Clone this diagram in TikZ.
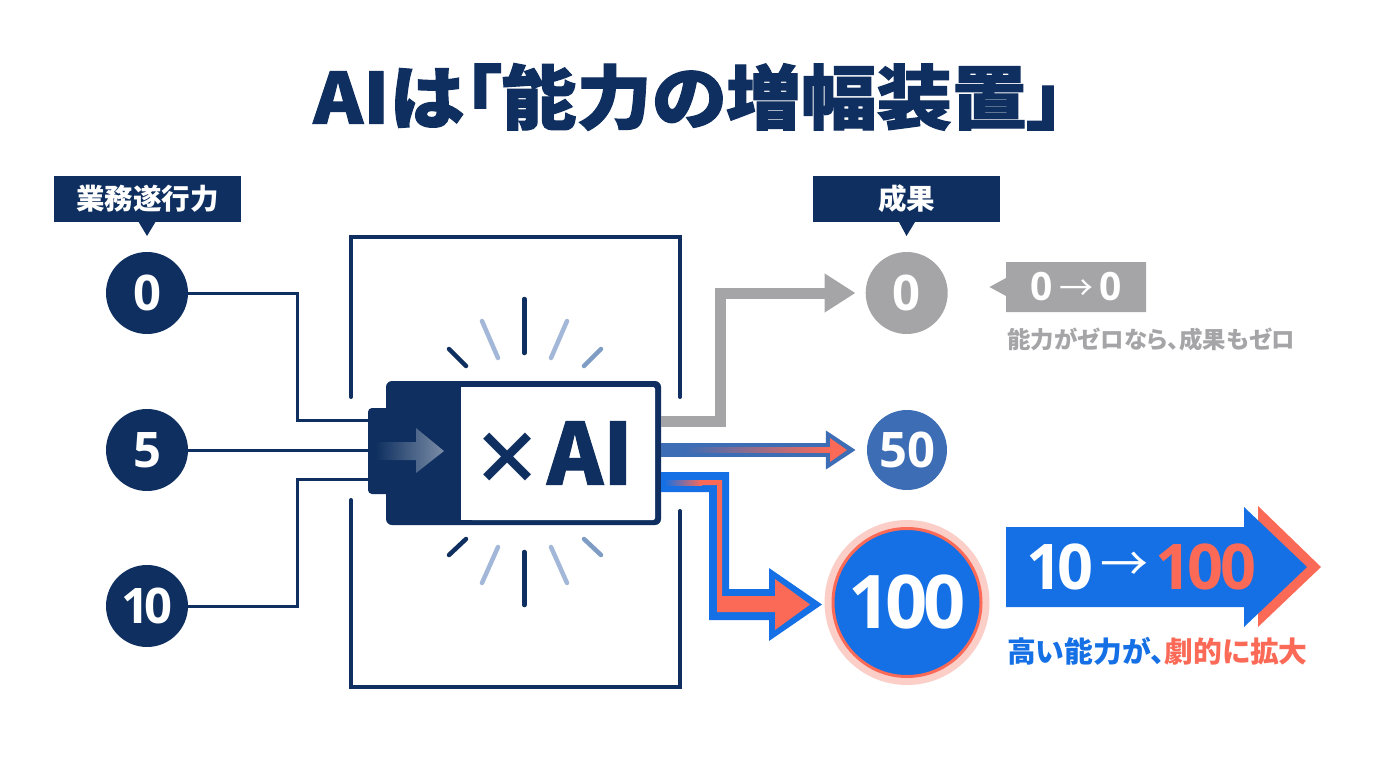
\documentclass[tikz,border=0pt]{standalone}
\usepackage{fontspec}
\usetikzlibrary{arrows.meta}
\setmainfont[RawFeature=+palt]{Noto Sans CJK JP}
\newfontfamily\titlef[RawFeature=+palt,FakeStretch=1.075,FakeBold=1.6]{Noto Sans CJK JP Black}
\newfontfamily\heavyf[FakeBold=1.2]{Noto Sans CJK JP Bold}
\newfontfamily\numf{Open Sans}
\definecolor{navy}{HTML}{0E2F5F}
\definecolor{grayc}{HTML}{A5A5A7}
\definecolor{bluec}{HTML}{1470E4}
\definecolor{redc}{HTML}{FB6A57}
\definecolor{midb}{HTML}{3D6DB5}
\definecolor{halo}{HTML}{FBCFC8}
\definecolor{lightb}{HTML}{A3B8D8}
\definecolor{medb}{HTML}{7F9CC4}
\newcommand{\fs}[1]{\fontsize{#1}{#1}\selectfont\bfseries}
\newcommand{\nfs}[1]{\fontsize{#1}{#1}\selectfont\numf\bfseries}
\tikzset{
  x=1pt,y=-1pt,
  numc/.style={circle,inner sep=0pt,minimum size=82pt,text=white,font=\nfs{49}},
  tagbox/.style={rectangle,fill=navy,text=white,inner sep=0pt,minimum width=187pt,minimum height=46pt,font=\fs{28.5}},
  wire/.style={draw=navy,line width=3pt,line join=miter},
  frameline/.style={draw=navy,line width=4pt,line cap=round,line join=miter},
  spark/.style={line width=4.5pt,line cap=round},
}
\begin{document}
\begin{tikzpicture}
\useasboundingbox (0,0) rectangle (1376,768);
\fill[white] (0,0) rectangle (1376,768);
% title
\node[text=navy,font=\titlef\fontsize{70}{70}\selectfont] (title) at (689,97) {AIは「能力の増幅装置」};
% frame
\draw[frameline] (351,397) -- (351,237) -- (680,237) -- (680,397);
\draw[frameline] (351,500) -- (351,687) -- (680,687) -- (680,511);
% tags
\node[tagbox] (tagin) at (147.5,199) {業務遂行力};
\fill[navy] (138,221) -- (156,221) -- (147,236) -- cycle;
\node[tagbox] (tagout) at (906.5,198.5) {成果};
\fill[navy] (899,222) -- (915,222) -- (906.5,236) -- cycle;
% input circles
\node[numc,fill=navy] (n0) at (147,293) {0};
\node[numc,fill=navy] (n5) at (147,450) {5};
\node[numc,fill=navy] (n10) at (147,606) {1\kern-5pt 0};
% battery
\node[rectangle,rounded corners=4pt,fill=navy,minimum width=30pt,minimum height=86pt,inner sep=0pt] (plug) at (383,451) {};
\node[rectangle,rounded corners=6pt,fill=navy,minimum width=275pt,minimum height=144pt,inner sep=0pt] (bat) at (523.5,453) {};
\fill[white,rounded corners=2pt] (470,387) -- (655,387) -- (655,520) -- (470,520) -- cycle;
\fill[white] (461,387) rectangle (480,520);
\node[text=navy,inner sep=0pt,anchor=center] (ai) at (552,453) {\fs{72}×\hspace{4pt}\fontsize{85}{85}\selectfont\heavyf AI};
% plug arrow
\shade[left color=navy,right color=navy!55!white]
  (375,442) -- (416,442) -- (416,428) -- (444,451) -- (416,473) -- (416,460) -- (375,460) -- cycle;
% wires
\coordinate (in1) at (368,420);
\coordinate (in2) at (368,450);
\coordinate (in3) at (368,479);
\draw[wire] (n0.east) -- ++(109,0) |- (in1);
\draw[wire] (n5.east) -- (in2);
\draw[wire] (n10.east) -- ++(109,0) |- (in3);
% sparks
\draw[spark,navy] (524.3,299) -- (524.3,353);
\draw[spark,navy] (524.3,552) -- (524.3,605);
\draw[spark,navy] (449,349) -- (466,366);
\draw[spark,navy] (449,555) -- (466,539);
\draw[spark,lightb] (482,321) -- (498,358);
\draw[spark,lightb] (567,321) -- (551,358);
\draw[spark,lightb] (482,583) -- (498,547);
\draw[spark,lightb] (567,583) -- (551,547);
\draw[spark,medb] (601,349) -- (584,366);
\draw[spark,medb] (584,539) -- (601,555);
% outputs
\node[numc,fill=grayc] (o0) at (906.7,293) {0};
\node[numc,fill=midb,minimum size=80pt] (o50) at (907,450) {50};
\node[circle,fill=halo,minimum size=165pt,inner sep=0pt] (ohalo) at (907,602.5) {};
\node[circle,fill=bluec,draw=redc,line width=3pt,minimum size=148pt,inner sep=0pt,text=white,font=\nfs{74}] (o100) at (907,602.5) {1\kern-5pt 0\kern-4pt 0};
% grey connector
\coordinate (g0) at (661,421.5);
\draw[grayc,line width=11pt,line join=miter,shorten >=10pt,-{Triangle[length=31pt,width=37pt]}] (g0) -| (720,293) -- (o0.west);
% 50 connector
\coordinate (m0) at (661,450);
\draw[midb,line width=14pt,shorten >=11pt,-{Triangle[length=30pt,width=37pt]}] (m0) -- (o50.west);
\shade[left color=midb,right color=redc] (685,447.5) rectangle (832,452.5);
\fill[redc] (830,438) -- (847,450) -- (830,462) -- cycle;
% 100 connector
\fill[bluec] (661,472) -- (729,472) -- (729,589) -- (769,589) -- (769,568) -- (822,604.5) -- (769,641) -- (769,620) -- (709,620) -- (709,492) -- (661,492) -- cycle;
\shade[left color=bluec,right color=redc] (664,480) rectangle (702,485);
\fill[redc] (700,480) -- (722,480) -- (722,596) -- (775,596) -- (775,579) -- (810,604.5) -- (775,630) -- (775,612) -- (717,612) -- (717,485) -- (700,485) -- cycle;
% grey callout
\fill[grayc] (1006,262) -- (1146,262) -- (1146,312) -- (1006,312) -- (1006,296) -- (989.5,287) -- (1006,278) -- cycle;
\node[text=white,font=\nfs{39}] (zz) at (1076,287) {0\,{\fontsize{34}{34}\selectfont\normalfont\mdseries→}\,0};
\node[text=grayc,font=\fs{23.4},anchor=west,inner sep=0pt] (capz) at (1007,340) {能力がゼロなら、成果もゼロ};
% big arrow
\fill[redc] (1258,506) -- (1321,567) -- (1258,627) -- cycle;
\fill[bluec] (1006,527) -- (1244,527) -- (1244,507) -- (1307,567) -- (1244,627) -- (1244,607) -- (1006,607) -- cycle;
\node[text=white,font=\nfs{63},anchor=west,inner sep=0pt] (ten) at (1026,567) {1\kern-5pt 0};
\node[text=white,font=\fs{48},inner sep=0pt] (arr) at (1124,567) {\mdseries→};
\node[text=redc,font=\nfs{63},anchor=east,inner sep=0pt] (hund) at (1257,567) {1\kern-4pt 0\kern-3pt 0};
\node[font=\fs{28.8},anchor=west,inner sep=0pt] (capb) at (1007,651) {\textcolor{bluec}{高い能力が、}\textcolor{redc}{劇的に拡大}};
\end{tikzpicture}
\end{document}
